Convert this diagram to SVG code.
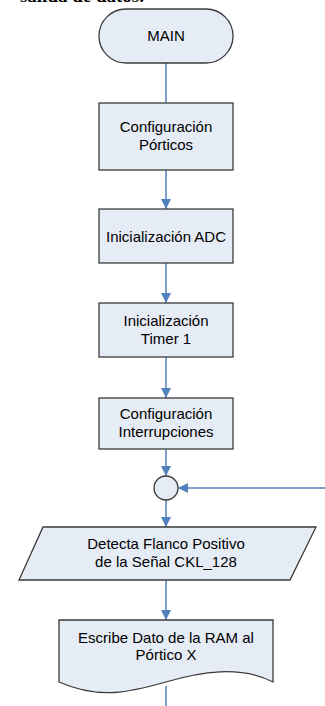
<svg xmlns="http://www.w3.org/2000/svg" width="325" height="706" viewBox="0 0 325 706">
<defs>
<style>
.shape{fill:#E6ECF6;stroke:#3A3A3A;stroke-width:1.3}
.lbl{font-family:"Liberation Sans",Arial,sans-serif;font-size:15px;fill:#000;text-anchor:middle}
.conn{stroke:#4F81BD;stroke-width:1.5;fill:none}
.title{font-family:"Liberation Serif","Times New Roman",serif;font-weight:bold;font-size:19px;fill:#000}
</style>
<marker id="arr" viewBox="0 0 10 10" refX="10" refY="5" markerWidth="10" markerHeight="10" markerUnits="userSpaceOnUse" orient="auto">
<path d="M0,0 L10,5 L0,10 Z" fill="#4F81BD"/>
</marker>
</defs>
<rect width="325" height="706" fill="#fff"/>
<text class="title" x="144" y="1.5" text-anchor="end">salida de datos.</text>
<g id="connectors">
<line class="conn" x1="166" y1="63" x2="166" y2="103"/>
<line class="conn" x1="166" y1="170" x2="166" y2="209" marker-end="url(#arr)"/>
<line class="conn" x1="166" y1="263" x2="166" y2="303" marker-end="url(#arr)"/>
<line class="conn" x1="166" y1="357" x2="166" y2="398" marker-end="url(#arr)"/>
<line class="conn" x1="166" y1="449" x2="166" y2="476" marker-end="url(#arr)"/>
<line class="conn" x1="325" y1="488" x2="178" y2="488" marker-end="url(#arr)"/>
<line class="conn" x1="166" y1="500" x2="166" y2="527" marker-end="url(#arr)"/>
<line class="conn" x1="166" y1="580" x2="166" y2="620" marker-end="url(#arr)"/>
<line class="conn" x1="166" y1="686" x2="166" y2="706"/>
</g>
<g id="main">
<rect class="shape" x="99" y="9" width="134" height="54" rx="27" ry="27"/>
<text class="lbl" x="166" y="41">MAIN</text>
</g>
<g id="config-porticos">
<rect class="shape" x="99" y="103" width="134" height="67"/>
<text class="lbl" x="166" y="132">Configuración</text>
<text class="lbl" x="166" y="150">Pórticos</text>
</g>
<g id="init-adc">
<rect class="shape" x="99" y="209" width="134" height="54"/>
<text class="lbl" x="166" y="241.5">Inicialización ADC</text>
</g>
<g id="init-timer1">
<rect class="shape" x="99" y="303" width="134" height="54"/>
<text class="lbl" x="166" y="325.5">Inicialización</text>
<text class="lbl" x="166" y="343.5">Timer 1</text>
</g>
<g id="config-interrupciones">
<rect class="shape" x="99" y="398" width="134" height="51"/>
<text class="lbl" x="166" y="419">Configuración</text>
<text class="lbl" x="166" y="437">Interrupciones</text>
</g>
<g id="connector-circle">
<circle class="shape" cx="166" cy="488" r="12"/>
</g>
<g id="detecta-flanco">
<polygon class="shape" points="43,527 316,527 290,580 19,580"/>
<text class="lbl" x="166" y="549">Detecta Flanco Positivo</text>
<text class="lbl" x="166" y="567">de la Señal CKL_128</text>
</g>
<g id="escribe-dato">
<path class="shape" d="M59,620 H273 V682 C240,665 200,672 166,682 C130,692 100,700 59,682 Z"/>
<text class="lbl" x="166" y="643">Escribe Dato de la RAM al</text>
<text class="lbl" x="166" y="660">Pórtico X</text>
</g>
</svg>
